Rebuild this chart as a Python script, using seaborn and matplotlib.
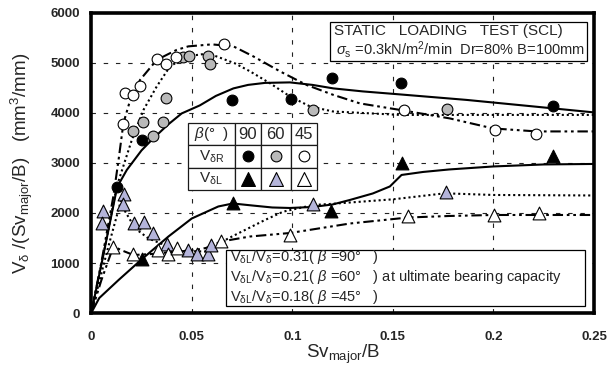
import numpy as np
import pandas as pd
import matplotlib
matplotlib.use("Agg")
import matplotlib.pyplot as plt
import seaborn as sns
from matplotlib.patches import Rectangle

# =============================================
# DATA
# =============================================

# measured points: V_dR (circles) and V_dL (triangles) for beta = 90, 60, 45
r90_x = [0.0129, 0.0252, 0.0699, 0.0992, 0.1195, 0.1542, 0.2297]
r90_y = [2520, 3450, 4250, 4280, 4690, 4590, 4140]

r60_x = [0.021, 0.0257, 0.0306, 0.0359, 0.0371, 0.0455, 0.0487, 0.058, 0.0591, 0.1101, 0.1767]
r60_y = [3640, 3810, 3530, 3810, 4290, 5110, 5140, 5140, 4970, 4060, 4070]

r45_x = [0.016, 0.0169, 0.021, 0.0243, 0.0329, 0.0371, 0.0422, 0.0662, 0.1555, 0.2007, 0.2214]
r45_y = [3780, 4390, 4360, 4540, 5070, 4970, 5110, 5370, 4050, 3650, 3580]

l90_x = [0.0252, 0.0704, 0.1192, 0.1543, 0.2297]
l90_y = [1080, 2190, 2040, 2990, 3130]

l60_x = [0.0061, 0.0056, 0.0164, 0.0157, 0.0215, 0.0263, 0.0306, 0.0376, 0.0483, 0.0525,
         0.0583, 0.0596, 0.1104, 0.1763]
l60_y = [2030, 1790, 2380, 2180, 1790, 1810, 1590, 1390, 1260, 1190, 1180, 1360, 2180, 2420]

l45_x = [0.011, 0.021, 0.0331, 0.0381, 0.0426, 0.0646, 0.0989, 0.1577, 0.2004, 0.2227]
l45_y = [1330, 1180, 1260, 1190, 1310, 1450, 1560, 1940, 1960, 1990]

# trend curves drawn through the points
c_r90_x = [0, 0.006, 0.0129, 0.0177, 0.025, 0.0301, 0.038, 0.045, 0.054, 0.062, 0.0707, 0.078,
           0.0864, 0.0988, 0.11, 0.1204, 0.135, 0.1535, 0.1866, 0.2197, 0.25]
c_r90_y = [0, 1150, 2520, 2860, 3250, 3460, 3760, 3990, 4150, 4340, 4490, 4560,
           4600, 4610, 4560, 4490, 4430, 4370, 4260, 4130, 4010]

c_l90_x = [0, 0.004, 0.0136, 0.025, 0.0384, 0.05, 0.0632, 0.0704, 0.08, 0.09, 0.0988, 0.11,
           0.12, 0.1286, 0.14, 0.1485, 0.1543, 0.165, 0.178, 0.2, 0.225, 0.25]
c_l90_y = [0, 300, 660, 1070, 1530, 1890, 2130, 2190, 2150, 2110, 2100, 2120,
           2170, 2260, 2390, 2530, 2760, 2820, 2870, 2930, 2970, 2980]

c_r60_x = [0, 0.006, 0.0127, 0.0202, 0.026, 0.0326, 0.0392, 0.0475, 0.0583, 0.0715, 0.079,
           0.089, 0.0988, 0.1088, 0.12, 0.1535, 0.2, 0.25]
c_r60_y = [0, 1150, 2530, 3460, 4060, 4530, 4930, 5130, 5190, 4990, 4830,
           4590, 4330, 4130, 4030, 3960, 3960, 3960]

c_r45_x = [0, 0.005, 0.011, 0.0136, 0.016, 0.0194, 0.0243, 0.0326, 0.0425, 0.0483, 0.06, 0.0707,
           0.0806, 0.0939, 0.107, 0.1204, 0.1336, 0.1535, 0.1783, 0.1998, 0.2214, 0.25]
c_r45_y = [0, 1000, 2330, 3060, 3790, 4260, 4660, 5060, 5260, 5330, 5370, 5330,
           5130, 4830, 4560, 4360, 4190, 4060, 3890, 3690, 3630, 3630]

c_l60_x = [0, 0.008, 0.0157, 0.0169, 0.0219, 0.0285, 0.0384, 0.0467, 0.0566, 0.062, 0.07,
           0.0864, 0.0955, 0.1104, 0.1187, 0.15, 0.1758, 0.2, 0.25]
c_l60_y = [0, 1250, 2380, 2030, 1690, 1490, 1330, 1240, 1230, 1360, 1530,
           1860, 2027, 2160, 2180, 2273, 2393, 2360, 2350]

c_l45_x = [0, 0.005, 0.011, 0.016, 0.021, 0.03, 0.04, 0.05, 0.057, 0.0646, 0.079, 0.0989,
           0.1287, 0.1577, 0.178, 0.2, 0.25]
c_l45_y = [0, 650, 1330, 1240, 1160, 1180, 1220, 1250, 1300, 1430, 1530, 1600,
           1790, 1910, 1940, 1960, 1960]

x_ticks = [0, 0.05, 0.1, 0.15, 0.2, 0.25]
x_labels = ["0", "0.05", "0.1", "0.15", "0.2", "0.25"]
y_ticks = [0, 1000, 2000, 3000, 4000, 5000, 6000]

# =============================================
# STYLE
# =============================================

sns.set_theme(style="white")
plt.rcParams["font.family"] = ["Liberation Sans", "DejaVu Sans"]
plt.rcParams["mathtext.fontset"] = "custom"
plt.rcParams["mathtext.rm"] = "Liberation Sans"
plt.rcParams["mathtext.it"] = "Liberation Sans:italic"

GRAY_C = "#b9b9b9"
GRAY_T = "#b4b4da"
DOT = (0, (1, 1.4))
DASHDOT = (0, (5, 1.8, 1.3, 1.8, 1.3, 1.8))

fig = plt.figure(figsize=(6.08, 3.67), dpi=100)
ax = fig.add_axes([0.150, 0.147, 0.827, 0.818])

# =============================================
# CURVES
# =============================================

curves = [
    (c_r90_x, c_r90_y, "-"), (c_l90_x, c_l90_y, "-"),
    (c_r60_x, c_r60_y, DOT), (c_l60_x, c_l60_y, DOT),
    (c_r45_x, c_r45_y, DASHDOT), (c_l45_x, c_l45_y, DASHDOT),
]
for cx, cy, ls in curves:
    sns.lineplot(x=cx, y=cy, ax=ax, color="black", linestyle=ls, linewidth=1.5,
                 estimator=None, sort=False, zorder=3)

# =============================================
# POINTS
# =============================================

pts = [
    (r90_x, r90_y, "o", "black", 60),
    (r60_x, r60_y, "o", GRAY_C, 60),
    (r45_x, r45_y, "o", "white", 60),
    (l90_x, l90_y, "^", "black", 85),
    (l60_x, l60_y, "^", GRAY_T, 85),
    (l45_x, l45_y, "^", "white", 85),
]
for px, py, mk, fc, s in pts:
    sns.scatterplot(x=px, y=py, ax=ax, marker=mk, s=s, color=fc,
                    edgecolor="black", linewidth=0.8, zorder=4)

# =============================================
# AXES
# =============================================

ax.set_xlim(0, 0.25)
ax.set_ylim(0, 6000)
ax.set_xticks(x_ticks)
ax.set_xticklabels(x_labels)
ax.set_yticks(y_ticks)
for lab in ax.get_xticklabels() + ax.get_yticklabels():
    lab.set_fontweight("bold")
    lab.set_fontsize(9.5)
ax.tick_params(axis="y", length=0, pad=8)
ax.tick_params(axis="x", length=0, pad=13)

ax.grid(True, color="#222222", linestyle=(0, (4, 7)), linewidth=0.8, zorder=1)
ax.set_axisbelow(True)
for sp in ax.spines.values():
    sp.set_linewidth(2.6)
    sp.set_color("black")

ax.set_xlabel(r"Sv$_\mathrm{major}$/B", fontsize=13.5)
ax.xaxis.set_label_coords(0.5, -0.1)
ax.set_ylabel(r"V$_\mathrm{δ}$ /(Sv$_\mathrm{major}$/B)   (mm$^\mathrm{3}$/mm)", fontsize=13.5)
ax.yaxis.set_label_coords(-0.112, 0.5)

# =============================================
# TABLE LEGEND
# =============================================

col_w = [0.094, 0.051, 0.060, 0.052]
tb_x0, tb_y0, tb_h = 0.192, 0.41, 0.223
cell_text = [[r"$β$(°  )", "90", "60", "45"],
             [r"V$_\mathrm{δR}$", "", "", ""],
             [r"V$_\mathrm{δL}$", "", "", ""]]
tbl = ax.table(cellText=cell_text, colWidths=col_w, cellLoc="center",
               bbox=[tb_x0, tb_y0, sum(col_w), tb_h], zorder=5)
tbl.auto_set_font_size(False)
for (r, c), cell in tbl.get_celld().items():
    cell.set_linewidth(0.9)
    cell.set_facecolor("white")
    cell.get_text().set_fontsize(12 if (r == 0 and c > 0) else 11)

row_h = tb_h / 3
centers_x = [tb_x0 + sum(col_w[:i]) + col_w[i] / 2 for i in range(1, 4)]
for row, (mk, s) in enumerate([("o", 60), ("^", 100)]):
    yc = tb_y0 + tb_h - row_h * (row + 1.5)
    for xc, fc in zip(centers_x, ["black", GRAY_C if mk == "o" else GRAY_T, "white"]):
        ax.scatter([xc], [yc], marker=mk, s=s, color=fc, edgecolor="black",
                   linewidth=0.8, transform=ax.transAxes, zorder=6)

# =============================================
# TEXT BOXES
# =============================================

ax.add_patch(Rectangle((0.475, 0.84), 0.511, 0.131, transform=ax.transAxes,
                       facecolor="white", edgecolor="black", linewidth=0.9, zorder=5))
ax.text(0.483, 0.941, "STATIC   LOADING   TEST (SCL)", transform=ax.transAxes,
        fontsize=11, va="center", ha="left", zorder=6)
ax.text(0.487, 0.879, r"$σ$$_\mathrm{s}$ =0.3kN/m$^\mathrm{2}$/min  Dr=80% B=100mm",
        transform=ax.transAxes, fontsize=10.5, va="center", ha="left", zorder=6)

ax.add_patch(Rectangle((0.268, 0.023), 0.715, 0.187, transform=ax.transAxes,
                       facecolor="white", edgecolor="black", linewidth=0.9, zorder=5))
ratio_lines = [r"V$_\mathrm{δL}$/V$_\mathrm{δ}$=0.31( $β$ =90°   )",
               r"V$_\mathrm{δL}$/V$_\mathrm{δ}$=0.21( $β$ =60°   ) at ultimate bearing capacity",
               r"V$_\mathrm{δL}$/V$_\mathrm{δ}$=0.18( $β$ =45°   )"]
for yy, txt in zip([0.187, 0.121, 0.054], ratio_lines):
    ax.text(0.276, yy, txt, transform=ax.transAxes, fontsize=10.5, va="center",
            ha="left", zorder=6)

fig.savefig("out.png", dpi=100)
